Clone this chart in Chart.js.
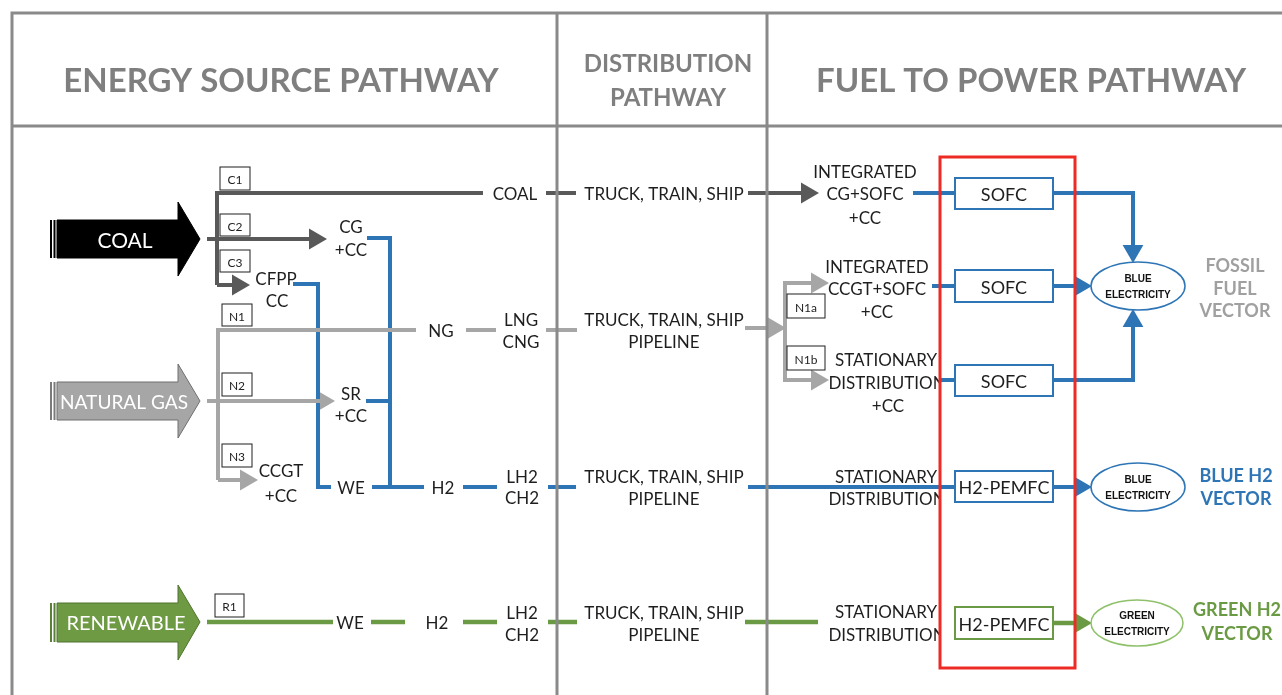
<!DOCTYPE html>
<html>
<head>
<meta charset="utf-8">
<script src="https://cdn.jsdelivr.net/npm/chart.js@4.4.0/dist/chart.umd.min.js"></script>
<style>
  html, body { margin: 0; padding: 0; background: #fff; overflow: hidden; }
</style>
</head>
<body>
<canvas id="diagram" width="1282" height="695"></canvas>
<script>
"use strict";

// diagram space: x 0..1282, y 0..695 (top to bottom)
var frameLines = [
  [[12, 695], [12, 13], [1282, 13]],
  [[12, 126], [1282, 126]],
  [[557, 13], [557, 695]],
  [[767, 13], [767, 695]]
];

var coalLines = [
  [[217, 285], [217, 193], [483, 193]],
  [[546, 193], [576, 193]],
  [[748, 193], [805, 193]],
  [[207, 239], [315, 239]],
  [[217, 285], [238, 285]]
];
var coalArrows = [[819, 193, 'r'], [327, 239, 'r'], [250, 285, 'r']];

var gasLines = [
  [[218, 480], [218, 330], [416, 330]],
  [[466, 330], [496, 330]],
  [[546, 330], [577, 330]],
  [[745, 328], [774, 328]],
  [[816, 283], [785, 283], [785, 380], [816, 380]],
  [[207, 401], [322, 401]],
  [[218, 480], [246, 480]]
];
var gasArrows = [[786, 328, 'r'], [829, 283, 'r'], [829, 380, 'r'], [335, 401, 'r'], [258, 480, 'r']];

var blueLines = [
  [[367, 238], [390, 238], [390, 487]],
  [[293, 284], [318, 284], [318, 487], [331, 487]],
  [[366, 401], [390, 401]],
  [[372, 487], [424, 487]],
  [[463, 487], [497, 487]],
  [[548, 487], [576, 487]],
  [[748, 487], [955, 487]],
  [[913, 193], [955, 193]],
  [[932, 286], [955, 286]],
  [[940, 380], [955, 380]],
  [[1053, 193], [1133, 193], [1133, 249]],
  [[1053, 380], [1133, 380], [1133, 323]],
  [[1053, 286], [1078, 286]],
  [[1053, 487], [1078, 487]]
];
var blueArrows = [[1133, 263, 'd'], [1133, 309, 'u'], [1092, 286, 'r'], [1092, 487, 'r']];

var greenLines = [
  [[207, 622], [333, 622]],
  [[371, 622], [405, 622]],
  [[463, 622], [497, 622]],
  [[548, 622], [577, 622]],
  [[745, 622], [818, 622]],
  [[1053, 623], [1078, 623]]
];
var greenArrows = [[1092, 623, 'r']];

var coalShape = [[57, 220], [178, 220], [178, 202], [200, 239], [178, 276], [178, 258], [57, 258], [57, 220]];
var gasShape = [[57, 382], [178, 382], [178, 364], [200, 401], [178, 438], [178, 420], [57, 420], [57, 382]];
var renewShape = [[57, 603], [178, 603], [178, 585], [200, 622], [178, 660], [178, 642], [57, 642], [57, 603]];
var stripeX = [50, 53.5];
var sourceNames = [['COAL', 125, 239], ['NATURAL GAS', 124, 401], ['RENEWABLE', 126, 622]];

var headers = [
  ['ENERGY SOURCE PATHWAY', 281, 79],
  ['FUEL TO POWER PATHWAY', 1031, 79]
];
var subHeaders = [['DISTRIBUTION', 668, 62], ['PATHWAY', 668, 96]];

var tags = [
  ['C1', 220, 167, 30, 23], ['C2', 220, 214, 30, 22], ['C3', 220, 250, 30, 22],
  ['N1', 222, 304, 30, 22], ['N2', 222, 373, 30, 23], ['N3', 222, 444, 30, 23],
  ['R1', 215, 594, 29, 23], ['N1a', 787, 294, 38, 24], ['N1b', 787, 346, 38, 24]
];

var stepLabels = [
  ['COAL', 515, 193], ['TRUCK, TRAIN, SHIP', 664, 193],
  ['CG', 351, 226], ['+CC', 351, 249], ['CFPP', 276, 278], ['CC', 277, 300],
  ['NG', 441, 330], ['LNG', 521, 319], ['CNG', 521, 341],
  ['TRUCK, TRAIN, SHIP', 664, 319], ['PIPELINE', 664, 341],
  ['SR', 351, 393], ['+CC', 351, 415], ['CCGT', 281, 470], ['+CC', 281, 495],
  ['WE', 351, 487], ['H2', 443, 487], ['LH2', 522, 476], ['CH2', 522, 497],
  ['TRUCK, TRAIN, SHIP', 664, 476], ['PIPELINE', 664, 498],
  ['WE', 350, 622], ['H2', 437, 622], ['LH2', 522, 612], ['CH2', 522, 634],
  ['TRUCK, TRAIN, SHIP', 664, 612], ['PIPELINE', 664, 634]
];
var powerLabels = [
  ['INTEGRATED', 865, 171], ['CG+SOFC', 865, 193], ['+CC', 865, 217],
  ['INTEGRATED', 877, 266], ['CCGT+SOFC', 877, 288], ['+CC', 877, 311],
  ['STATIONARY', 886, 359], ['DISTRIBUTION', 887, 382], ['+CC', 888, 405],
  ['STATIONARY', 886, 476], ['DISTRIBUTION', 887, 498],
  ['STATIONARY', 886, 611], ['DISTRIBUTION', 887, 634]
];

var blueCells = [['SOFC', 955, 178, 98, 31], ['SOFC', 955, 270, 98, 32], ['SOFC', 955, 365, 98, 31], ['H2-PEMFC', 955, 471, 98, 31]];
var greenCells = [['H2-PEMFC', 955, 607, 98, 32]];
var focusBox = [940, 157, 135, 511];

var blueOutputs = [[1138, 286, 47, 24], [1138, 487, 47, 24]];
var greenOutputs = [[1137, 623, 46, 23]];
var outputWords = { blue: ['BLUE', 'ELECTRICITY'], green: ['GREEN', 'ELECTRICITY'] };

var vectorGray = [['FOSSIL', 1235, 264], ['FUEL', 1235, 287], ['VECTOR', 1235, 309]];
var vectorBlue = [['BLUE H2', 1236, 474], ['VECTOR', 1236, 497]];
var vectorGreen = [['GREEN H2', 1237, 608], ['VECTOR', 1237, 632]];

var FONT = 'Lato, "Open Sans", sans-serif';
var C = {
  frame: '#8a8a8a', coal: '#595959', gas: '#a6a6a6', blue: '#2e75b6',
  green: '#6b9a44', lightGreen: '#8fc16a', red: '#ee2a24', text: '#1e1e1e', head: '#7f7f7f'
};

var pts = function(path) {
  return path.map(function(p) { return { x: p[0], y: p[1] }; });
};

var lineSet = function(path, color, width) {
  return {
    data: pts(path), showLine: true, borderColor: color, borderWidth: width,
    pointRadius: 0, fill: false, borderCapStyle: 'butt', borderJoinStyle: 'miter', clip: false
  };
};

var arrowSet = function(tips, color, r) {
  var dirs = { r: [1, 0, 90], d: [0, 1, 180], u: [0, -1, 0] };
  return {
    data: tips.map(function(t) { var d = dirs[t[2]]; return { x: t[0] - d[0] * r, y: t[1] - d[1] * r }; }),
    showLine: false, pointStyle: 'triangle', pointRadius: r, pointHoverRadius: r,
    pointRotation: tips.map(function(t) { return dirs[t[2]][2]; }),
    backgroundColor: color, borderWidth: 0, clip: false
  };
};

var shapeSet = function(path, fillColor, edgeColor) {
  return {
    data: pts(path), showLine: true, fill: 'shape', backgroundColor: fillColor,
    borderColor: edgeColor, borderWidth: 1, pointRadius: 0, clip: false
  };
};

var datasets = [];
frameLines.forEach(function(p) { datasets.push(lineSet(p, C.frame, 3)); });
coalLines.forEach(function(p) { datasets.push(lineSet(p, C.coal, 4)); });
gasLines.forEach(function(p) { datasets.push(lineSet(p, C.gas, 4)); });
blueLines.forEach(function(p) { datasets.push(lineSet(p, C.blue, 4)); });
greenLines.forEach(function(p) { datasets.push(lineSet(p, C.green, 4.5)); });
datasets.push(arrowSet(coalArrows, C.coal, 12));
datasets.push(arrowSet(gasArrows, C.gas, 12));
datasets.push(arrowSet(blueArrows, C.blue, 12));
datasets.push(arrowSet(greenArrows, C.green, 12));
datasets.push(shapeSet(coalShape, '#000000', '#000000'));
datasets.push(shapeSet(gasShape, '#a6a6a6', '#6f6f6f'));
datasets.push(shapeSet(renewShape, '#6e9a44', '#4f7330'));

var labelsPlugin = {
  id: 'diagramText',
  afterDatasetsDraw: function(chart) {
    var ctx = chart.ctx;
    var sx = function(v) { return chart.scales.x.getPixelForValue(v); };
    var sy = function(v) { return chart.scales.y.getPixelForValue(v); };

    // Lato sits a little high with 'middle', nudge down
    var text = function(list, font, color, maxW, dy) {
      ctx.save();
      ctx.font = font;
      ctx.fillStyle = color;
      ctx.textAlign = 'center';
      ctx.textBaseline = 'middle';
      list.forEach(function(l) {
        var x = sx(l[1]), y = sy(l[2]) + (dy === undefined ? 2 : dy);
        if (maxW) ctx.fillText(l[0], x, y, maxW);
        else ctx.fillText(l[0], x, y);
      });
      ctx.restore();
    };

    var rect = function(r, stroke, lw, fillColor) {
      var x0 = sx(r[0]), y0 = sy(r[1]);
      var w = sx(r[0] + r[2]) - x0, h = sy(r[1] + r[3]) - y0;
      ctx.save();
      if (fillColor) { ctx.fillStyle = fillColor; ctx.fillRect(x0, y0, w, h); }
      ctx.strokeStyle = stroke;
      ctx.lineWidth = lw;
      ctx.strokeRect(x0, y0, w, h);
      ctx.restore();
    };

    // stripes at the tail of the source arrows
    ctx.save();
    [[coalShape, '#000000'], [gasShape, '#7a7a7a'], [renewShape, '#5a7f38']].forEach(function(s) {
      ctx.fillStyle = s[1];
      var top = s[0][0][1], bot = s[0][6][1];
      stripeX.forEach(function(x) {
        ctx.fillRect(sx(x), sy(top), 2, sy(bot) - sy(top));
      });
    });
    ctx.restore();

    text(sourceNames.slice(0, 1), '21px ' + FONT, '#ffffff');
    text(sourceNames.slice(1), '20px ' + FONT, '#ffffff', 128);

    text(headers, 'bold 33px ' + FONT, C.head, 437);
    text(subHeaders, 'bold 24px ' + FONT, C.head, 170);

    tags.forEach(function(t) {
      rect([t[1], t[2], t[3], t[4]], '#1e1e1e', 1, '#ffffff');
    });
    text(tags.map(function(t) { return [t[0], t[1] + t[3] / 2, t[2] + t[4] / 2]; }), '12px ' + FONT, C.text);

    text(stepLabels, '17px ' + FONT, C.text);

    // the fuel-to-power labels are cut off where the red frame starts
    ctx.save();
    ctx.beginPath();
    ctx.rect(0, 0, sx(focusBox[0] + 1), chart.height);
    ctx.clip();
    text(powerLabels, '17px ' + FONT, C.text);
    ctx.restore();

    blueCells.forEach(function(b) { rect([b[1], b[2], b[3], b[4]], C.blue, 2, '#ffffff'); });
    greenCells.forEach(function(b) { rect([b[1], b[2], b[3], b[4]], C.green, 2, '#ffffff'); });
    text(blueCells.concat(greenCells).map(function(b) { return [b[0], b[1] + b[3] / 2, b[2] + b[4] / 2]; }), '18px ' + FONT, C.text);

    rect(focusBox, C.red, 3);

    var oval = function(list, color, words) {
      list.forEach(function(o) {
        ctx.save();
        ctx.beginPath();
        ctx.ellipse(sx(o[0]), sy(o[1]), o[2], o[3], 0, 0, Math.PI * 2);
        ctx.fillStyle = '#ffffff';
        ctx.fill();
        ctx.strokeStyle = color;
        ctx.lineWidth = 1.5;
        ctx.stroke();
        ctx.restore();
        text([[words[0], o[0], o[1] - 8], [words[1], o[0], o[1] + 8]],
          'bold 10px "Liberation Sans", Arial, sans-serif', '#111111', 66, 1);
      });
    };
    oval(blueOutputs, C.blue, outputWords.blue);
    oval(greenOutputs, C.lightGreen, outputWords.green);

    text(vectorGray, 'bold 18px ' + FONT, '#a0a0a0');
    text(vectorBlue, 'bold 18px ' + FONT, C.blue);
    text(vectorGreen, 'bold 18px ' + FONT, C.green);
  }
};

new Chart(document.getElementById('diagram'), {
  type: 'scatter',
  data: { datasets: datasets },
  options: {
    responsive: false,
    animation: false,
    events: [],
    layout: { padding: 0, autoPadding: false },
    plugins: { legend: { display: false }, tooltip: { enabled: false } },
    scales: {
      x: { type: 'linear', min: 0, max: 1282, display: false },
      y: { type: 'linear', min: 0, max: 695, reverse: true, display: false }
    }
  },
  plugins: [labelsPlugin]
});
</script>
</body>
</html>
